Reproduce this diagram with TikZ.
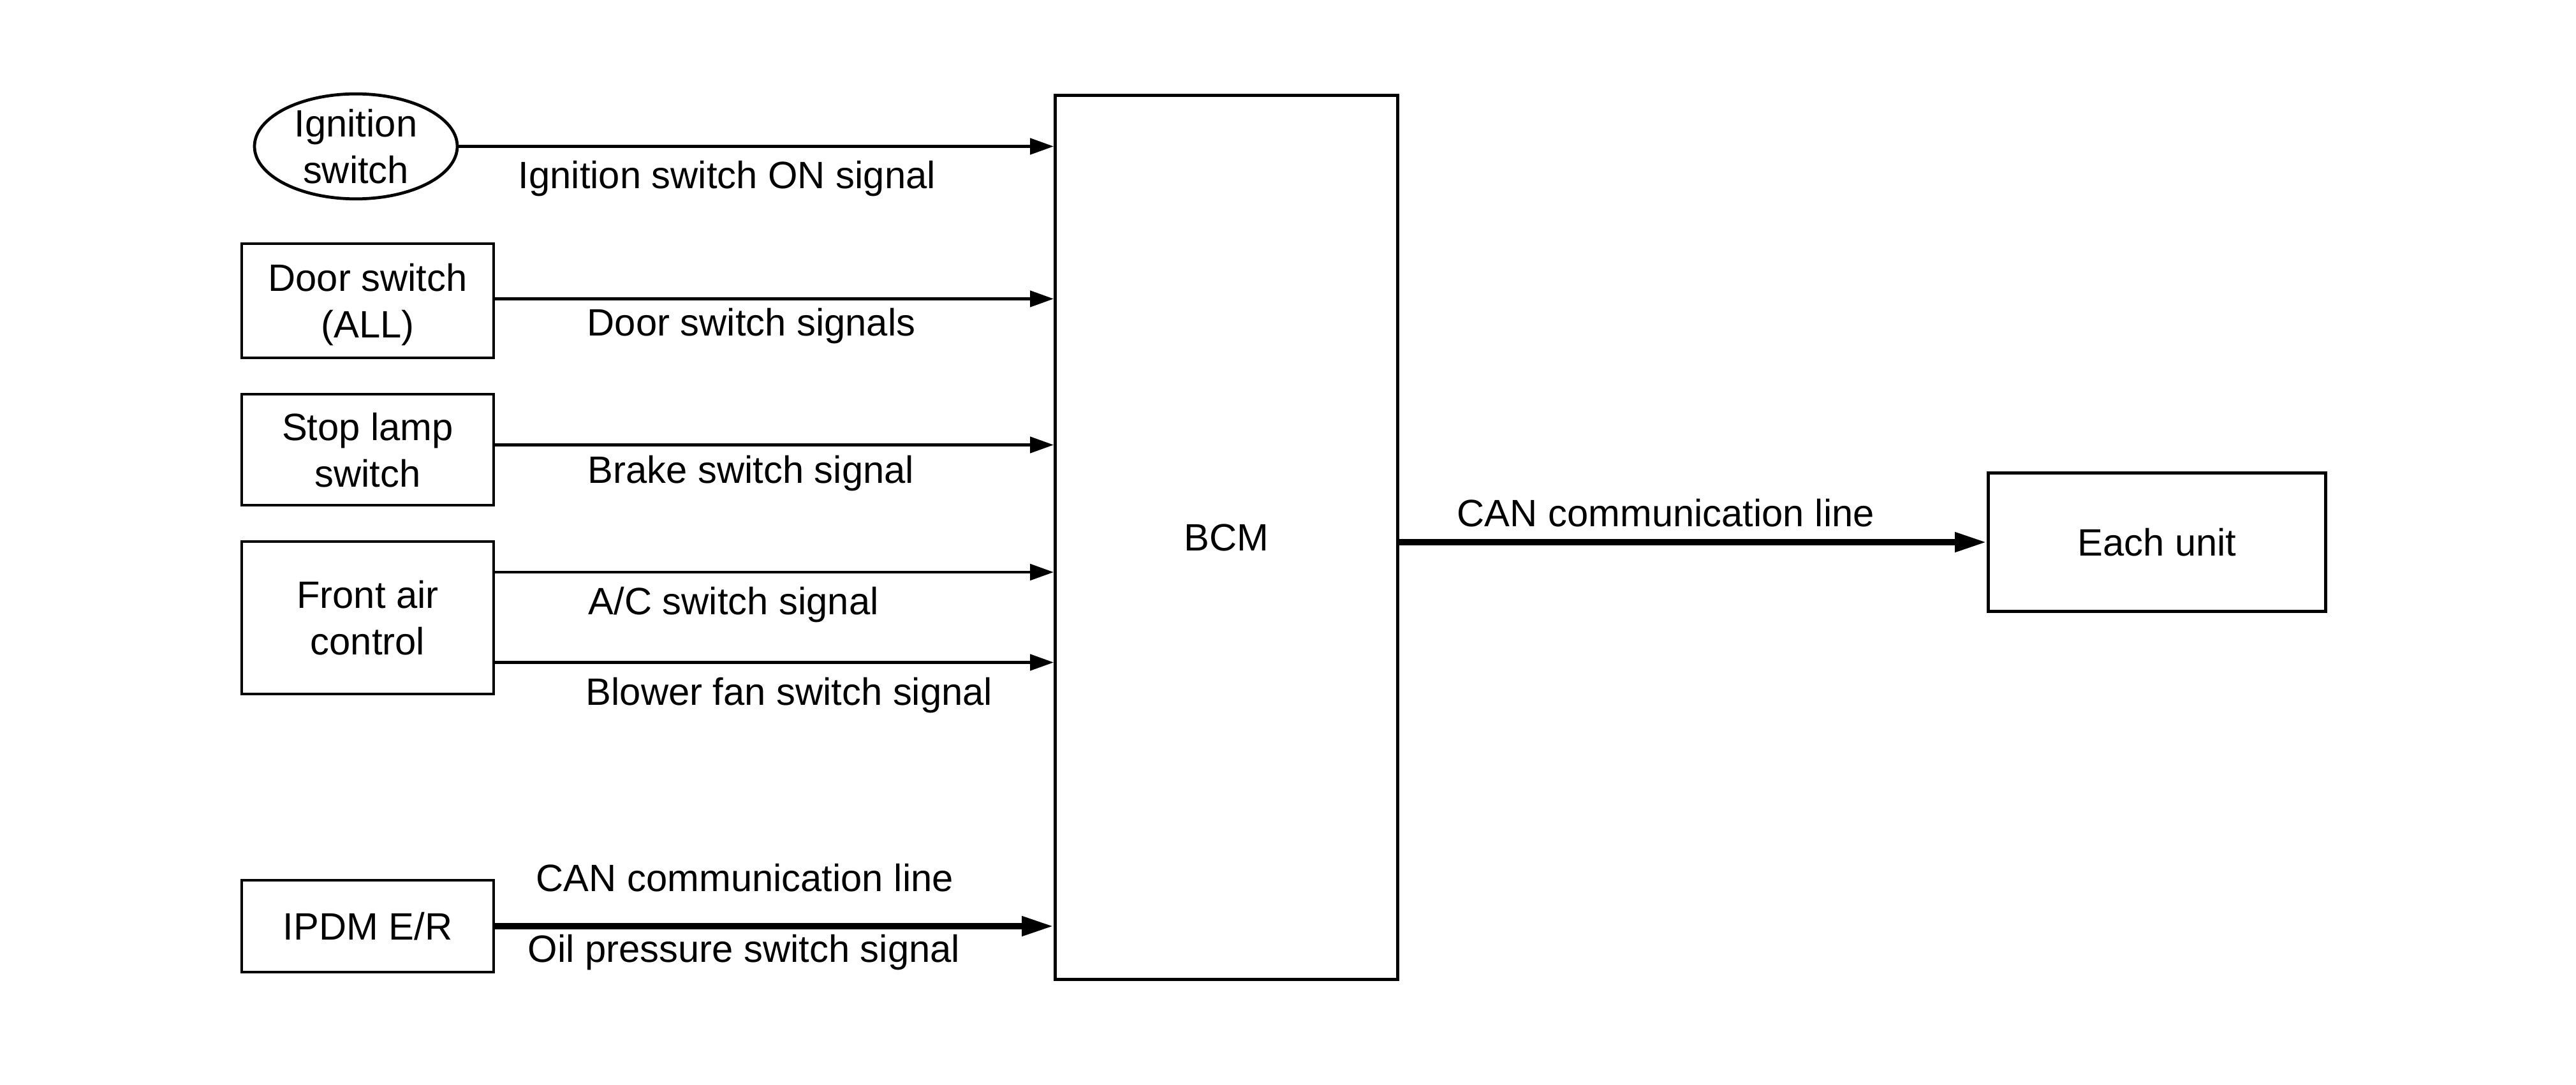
\documentclass[tikz,border=0pt]{standalone}
\usepackage{fontspec}
\setmainfont{Liberation Sans}
\usetikzlibrary{arrows.meta,shapes.geometric}
\begin{document}
\begin{tikzpicture}[
  every node/.style={font=\fontsize{17}{20.8}\selectfont},
  box/.style={draw, line width=1.35pt, rectangle, inner sep=0pt, align=center, text depth=0pt},
  oval/.style={draw, line width=1.35pt, ellipse, inner sep=0pt, align=center, text depth=0pt},
  lbl/.style={anchor=base west, inner sep=0pt},
  arr/.style={line width=1.35pt, -{Triangle[length=0.37cm,width=0.25cm]}},
  thickarr/.style={line width=2.9pt, -{Triangle[length=0.5cm,width=0.29cm]}}
]
\useasboundingbox (0,0) rectangle (40.39,-17.01);

% blocks
\node[oval, minimum width=3.18cm, minimum height=1.61cm] (ign) at (5.58,-2.295) {Ignition\\switch};
\node[box, minimum width=3.95cm, minimum height=1.79cm] (door) at (5.765,-4.715) {Door switch\\(ALL)};
\node[box, minimum width=3.95cm, minimum height=1.74cm] (stop) at (5.765,-7.05) {Stop lamp\\switch};
\node[box, minimum width=3.95cm, minimum height=2.39cm] (front) at (5.765,-9.685) {Front air\\control};
\node[box, minimum width=3.95cm, minimum height=1.44cm] (ipdm) at (5.765,-14.52) {IPDM E/R};
\node[box, minimum width=5.37cm, minimum height=13.86cm] (bcm) at (19.23,-8.425) {BCM};
\node[box, minimum width=5.29cm, minimum height=2.17cm] (each) at (33.82,-8.50) {Each unit};

% arrow heights
\coordinate (ydoor) at (0,-4.685);
\coordinate (ystop) at (0,-6.975);
\coordinate (yac) at (0,-8.97);
\coordinate (yblow) at (0,-10.385);

% connectors
\draw[arr] (ign.east) -- (ign.east -| bcm.west);
\draw[arr] (door.east |- ydoor) -- (bcm.west |- ydoor);
\draw[arr] (stop.east |- ystop) -- (bcm.west |- ystop);
\draw[arr] (front.east |- yac) -- (bcm.west |- yac);
\draw[arr] (front.east |- yblow) -- (bcm.west |- yblow);
\draw[thickarr] (ipdm.east) -- (ipdm.east -| bcm.west);
\draw[thickarr] (bcm.east |- each.west) -- (each.west);

% labels
\node[lbl] (lign) at (8.12,-2.96) {Ignition switch ON signal};
\node[lbl] (ldoor) at (9.20,-5.27) {Door switch signals};
\node[lbl] (lbrake) at (9.21,-7.57) {Brake switch signal};
\node[lbl] (lac) at (9.22,-9.63) {A/C switch signal};
\node[lbl] (lblow) at (9.18,-11.05) {Blower fan switch signal};
\node[lbl] (lcan1) at (8.40,-13.97) {CAN communication line};
\node[lbl] (loil) at (8.27,-15.08) {Oil pressure switch signal};
\node[lbl] (lcan2) at (22.84,-8.25) {CAN communication line};
\end{tikzpicture}
\end{document}
